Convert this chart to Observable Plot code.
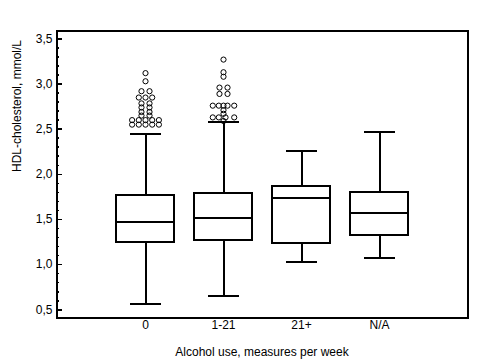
<!DOCTYPE html>
<html>
<head>
<meta charset="utf-8">
<script src="https://cdn.jsdelivr.net/npm/d3@7"></script>
<script src="https://cdn.jsdelivr.net/npm/@observablehq/plot@0.6"></script>
<style>
  html, body { margin: 0; padding: 0; background: #fff; }
  svg line, svg rect, svg path { shape-rendering: crispEdges; }
  svg circle { shape-rendering: auto; }
</style>
</head>
<body>
<div id="chart"></div>
<script>
// ---- data ----
const categories = ["0", "1-21", "21+", "N/A"];
const upperWhisker = [2.45, 2.575, 2.26, 2.465];
const q3 = [1.76, 1.79, 1.865, 1.80];
const median = [1.47, 1.52, 1.735, 1.57];
const q1 = [1.25, 1.265, 1.235, 1.32];
const lowerWhisker = [0.56, 0.65, 1.025, 1.07];

// outliers: category, value, horizontal jitter column
const outlierCategory = [
  "0","0","0","0","0","0","0","0","0","0","0","0","0","0","0","0","0","0","0","0","0","0","0","0","0",
  "1-21","1-21","1-21","1-21","1-21","1-21","1-21","1-21","1-21","1-21","1-21","1-21","1-21","1-21","1-21","1-21","1-21","1-21","1-21"
];
const outlierValue = [
  3.12, 3.03, 2.92, 2.92, 2.85, 2.85, 2.85, 2.785, 2.785, 2.74, 2.74, 2.69, 2.69, 2.65, 2.65,
  2.60, 2.60, 2.60, 2.60, 2.60, 2.55, 2.55, 2.55, 2.55, 2.55,
  3.27, 3.13, 3.08, 2.96, 2.96, 2.89, 2.89, 2.76, 2.76, 2.76, 2.76, 2.76, 2.71, 2.67,
  2.63, 2.63, 2.63, 2.63, 2.59
];
const outlierColumn = [
  0, 0, -0.6, 0.6, -1, 0, 1, -0.6, 0.6, -0.6, 0.6, -0.6, 0.6, -0.6, 0.6,
  -2, -1, 0, 1, 2, -2, -1, 0, 1, 2,
  0, 0, 0, -0.6, 0.6, -0.6, 0.6, -1.6, -0.7, 0, 0.6, 1.6, 0, 0,
  -1.6, -0.7, 0.3, 1.6, 0
];

const yTicks = [0.5, 1.0, 1.5, 2.0, 2.5, 3.0, 3.5];
const yMinorTicks = [0.6, 0.7, 0.8, 0.9, 1.1, 1.2, 1.3, 1.4, 1.6, 1.7, 1.8, 1.9,
  2.1, 2.2, 2.3, 2.4, 2.6, 2.7, 2.8, 2.9, 3.1, 3.2, 3.3, 3.4];

const xTitle = "Alcohol use, measures per week";
const yTitle = "HDL-cholesterol, mmol/L";

// ---- tables ----
const boxes = categories.map((c, i) => ({
  cat: c, upper: upperWhisker[i], q3: q3[i], median: median[i], q1: q1[i], lower: lowerWhisker[i]
}));
const outliers = outlierValue.map((v, i) => ({cat: outlierCategory[i], value: v, col: outlierColumn[i]}));
const columnSet = Array.from(new Set(outlierColumn));

const font = "'Liberation Sans', Arial, Helvetica, sans-serif";
const colUnit = 6.7;

const outlierMarks = columnSet.map(k =>
  Plot.dot(outliers.filter(d => d.col === k), {
    x: "cat", y: "value", dx: k * colUnit, r: 2.6,
    stroke: "black", strokeWidth: 1, fill: "none"
  })
);

const chart = Plot.plot({
  width: 483,
  height: 362,
  marginLeft: 56,
  marginRight: 16,
  marginTop: 30,
  marginBottom: 45,
  style: {fontFamily: font, fontSize: "12px", color: "black", background: "white"},
  x: {type: "band", domain: categories, paddingInner: 0.257, paddingOuter: 0.74},
  y: {domain: [0.415, 3.592]},
  marks: [
    Plot.ruleX(boxes, {x: "cat", y1: "q3", y2: "upper", stroke: "black", strokeWidth: 2}),
    Plot.ruleX(boxes, {x: "cat", y1: "q1", y2: "lower", stroke: "black", strokeWidth: 2}),
    Plot.barY(boxes, {x: "cat", y1: "q1", y2: "q3", fill: "white", stroke: "black", strokeWidth: 2}),
    Plot.tickY(boxes, {x: "cat", y: "median", stroke: "black", strokeWidth: 2}),
    Plot.tickY(boxes, {x: "cat", y: "upper", stroke: "black", strokeWidth: 2, insetLeft: 13.5, insetRight: 13.5}),
    Plot.tickY(boxes, {x: "cat", y: "lower", stroke: "black", strokeWidth: 2, insetLeft: 13.5, insetRight: 13.5}),
    ...outlierMarks,
    Plot.tickY(yTicks, {y: d => d, stroke: "black", strokeWidth: 1.5, insetRight: 405}),
    Plot.tickY(yMinorTicks, {y: d => d, stroke: "black", strokeWidth: 1.5, insetRight: 408}),
    Plot.axisY({ticks: yTicks, tickFormat: d => d.toFixed(1).replace(".", ","), tickSize: 0, tickPadding: 4, label: null, fontSize: 12, fill: "black"}),
    Plot.axisX({tickSize: 0, tickPadding: 3, label: null, fontSize: 12, fill: "black"}),
    Plot.text([xTitle], {text: d => d, frameAnchor: "bottom", dy: 35, lineAnchor: "middle", fontSize: 12, fill: "black"}),
    Plot.text([yTitle], {text: d => d, frameAnchor: "left", dx: -39, dy: -2, rotate: -90, lineAnchor: "middle", fontSize: 12, fill: "black"}),
    Plot.frame({stroke: "black", strokeWidth: 2})
  ]
});
document.getElementById("chart").appendChild(chart);
</script>
</body>
</html>
